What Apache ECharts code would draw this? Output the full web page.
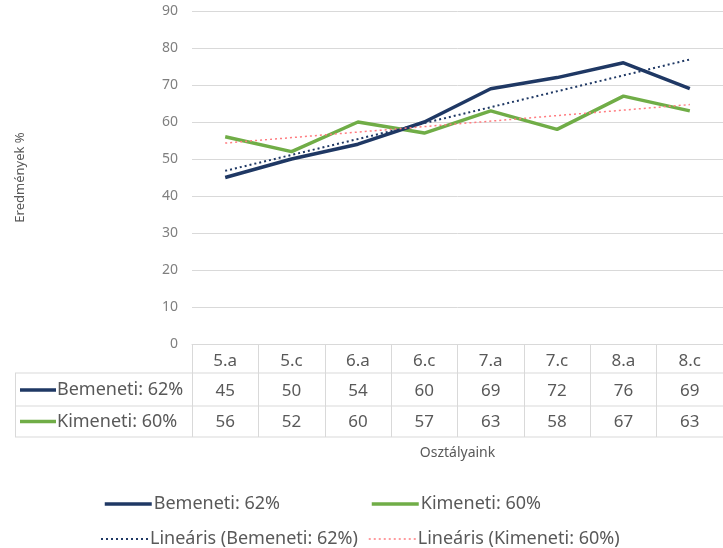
<!DOCTYPE html>
<html>
<head>
<meta charset="utf-8">
<script src="https://cdn.jsdelivr.net/npm/echarts@6/dist/echarts.min.js"></script>
<style>
  html, body { margin: 0; padding: 0; background: #fff; }
  #chart { width: 723px; height: 548px; }
</style>
</head>
<body>
<div id="chart"></div>
<script>
const categories = ['5.a', '5.c', '6.a', '6.c', '7.a', '7.c', '8.a', '8.c']
const bemeneti = [45, 50, 54, 60, 69, 72, 76, 69]
const kimeneti = [56, 52, 60, 57, 63, 58, 67, 63]
// trendline ends (first / last class)
const trendBemeneti = [46.8, 76.9]
const trendKimeneti = [54.3, 64.7]
const seriesNames = ['Bemeneti: 62%', 'Kimeneti: 60%']
const trendNames = ['Lineáris (Bemeneti: 62%)', 'Lineáris (Kimeneti: 60%)']

const navy = '#1f3864'
const green = '#70ad47'
const salmon = '#ff7c80'
const textColor = '#595959'
const border = '#d9d9d9'
const font = '"Noto Sans", sans-serif'

// layout of the plot and the data table under it
const gridLeft = 192
const gridTop = 11
const gridHeight = 333
const axisY = gridTop + gridHeight
const tableLeft = 15
const rowLines = [373, 406, 437]
const rowCenters = [390, 421.5]

const chart = echarts.init(document.getElementById('chart'))

const tableGraphics = []
rowLines.forEach((y) => {
  tableGraphics.push({
    type: 'line',
    shape: { x1: tableLeft, y1: y, x2: 723, y2: y },
    style: { stroke: border, lineWidth: 1 }
  })
})
tableGraphics.push({
  type: 'line',
  shape: { x1: tableLeft + 0.5, y1: rowLines[0], x2: tableLeft + 0.5, y2: rowLines[2] },
  style: { stroke: border, lineWidth: 1 }
})
;[navy, green].forEach((color, i) => {
  tableGraphics.push({
    type: 'line',
    shape: { x1: 20, y1: rowCenters[i], x2: 56, y2: rowCenters[i] },
    style: { stroke: color, lineWidth: 3.5 }
  })
  tableGraphics.push({
    type: 'text',
    x: 57,
    y: rowCenters[i],
    style: {
      text: seriesNames[i],
      fill: textColor,
      font: '18px ' + font,
      verticalAlign: 'middle'
    }
  })
})

function legendItem(name, left, top, lineWidth) {
  return {
    left,
    top,
    itemWidth: 47,
    itemHeight: 14,
    itemStyle: { opacity: 0 },
    lineStyle: { width: lineWidth },
    textStyle: { color: textColor, fontSize: 18, padding: [0, 0, 0, -3] },
    data: [name]
  }
}

chart.setOption({
  animation: false,
  backgroundColor: '#fff',
  textStyle: { fontFamily: font },
  grid: {
    left: gridLeft,
    top: gridTop,
    right: 0,
    height: gridHeight
  },
  legend: [
    legendItem(seriesNames[0], 98, 490, 3.5),
    legendItem(seriesNames[1], 365, 490, 3.5),
    legendItem(trendNames[0], 95, 525, 2),
    legendItem(trendNames[1], 363, 525, 1.5)
  ],
  xAxis: {
    type: 'category',
    data: categories,
    boundaryGap: true,
    name: 'Osztályaink',
    nameLocation: 'middle',
    nameGap: 102,
    nameTextStyle: { color: textColor, fontSize: 14 },
    axisLine: { show: true, lineStyle: { color: border, width: 1 } },
    axisTick: {
      show: true,
      interval: 0,
      length: rowLines[2] - axisY,
      lineStyle: { color: border, width: 1 }
    },
    axisLabel: {
      interval: 0,
      margin: 3,
      formatter: (value, index) =>
        `{h|${value}}\n{v|${bemeneti[index]}}\n{v|${kimeneti[index]}}`,
      rich: {
        h: { fontSize: 17, color: textColor, lineHeight: 29 },
        v: { fontSize: 17, color: textColor, lineHeight: 31 }
      }
    }
  },
  yAxis: {
    type: 'value',
    min: 0,
    max: 90,
    interval: 10,
    name: 'Eredmények %',
    nameLocation: 'middle',
    nameGap: 165,
    nameTextStyle: { color: textColor, fontSize: 13 },
    axisLine: { show: false },
    axisTick: { show: false },
    axisLabel: { color: '#7f7f7f', fontSize: 14, margin: 14 },
    splitLine: { lineStyle: { color: border, width: 1 } }
  },
  series: [
    {
      name: seriesNames[0],
      type: 'line',
      data: bemeneti,
      symbol: 'none',
      color: navy,
      lineStyle: { color: navy, width: 3.5 },
      z: 4
    },
    {
      name: seriesNames[1],
      type: 'line',
      data: kimeneti,
      symbol: 'none',
      color: green,
      lineStyle: { color: green, width: 3.5 },
      z: 3
    },
    {
      name: trendNames[0],
      type: 'line',
      data: [[categories[0], trendBemeneti[0]], [categories[categories.length - 1], trendBemeneti[1]]],
      symbol: 'none',
      color: navy,
      lineStyle: { color: navy, width: 2, type: [2, 3] },
      z: 5
    },
    {
      name: trendNames[1],
      type: 'line',
      data: [[categories[0], trendKimeneti[0]], [categories[categories.length - 1], trendKimeneti[1]]],
      symbol: 'none',
      color: salmon,
      lineStyle: { color: salmon, width: 1.5, type: [2, 3] },
      z: 5
    }
  ],
  graphic: tableGraphics
})
</script>
</body>
</html>
